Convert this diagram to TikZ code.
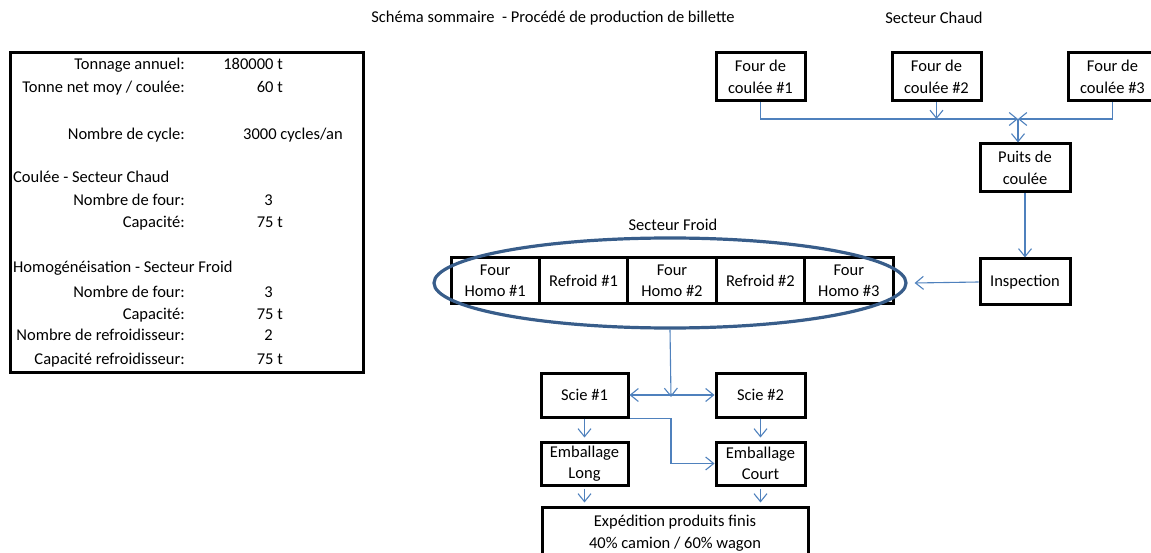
\documentclass[tikz,border=0pt]{standalone}
\usepackage{fontspec}
\setmainfont{Carlito}
\usetikzlibrary{arrows.meta,shapes.geometric}

\definecolor{flowblue}{HTML}{4F81BD}
\definecolor{ringblue}{HTML}{385D8A}

\tikzstyle{txt}=[inner sep=0pt,font=\fontsize{16.5}{21.5}\selectfont]
\tikzstyle{box}=[txt,draw,line width=3pt,align=center,minimum width=89pt,minimum height=48pt]
\tikzstyle{cell}=[box,minimum width=88.4pt,minimum height=46pt]
\tikzstyle{flow}=[draw=flowblue,line width=1.1pt,-{Straight Barb[length=8pt,width=13pt]}]
\tikzstyle{ring}=[draw=ringblue,line width=3.2pt,ellipse,minimum width=472pt,minimum height=90pt]

\begin{document}
\begin{tikzpicture}[x=1pt,y=-1pt]
    \useasboundingbox (0,0) rectangle (1151,553);
    % Titles
    \node[txt] (title) at (553,18) {Schéma sommaire\ \ - Procédé de production de billette};
    \node[txt] (chaud) at (934,18) {Secteur Chaud};

    % Data table on the left
    \draw[line width=3pt] (10,53) rectangle (363,372);
    \foreach \y/\lab in {66.7/Tonnage annuel:, 90/{Tonne net moy / coulée:}, 136.7/Nombre de cycle:,
        203.3/Nombre de four:, 225/Capacité:, 295/Nombre de four:, 316.7/Capacité:,
        338.5/Nombre de refroidisseur:, 361.7/Capacité refroidisseur:}
        \node[txt,anchor=mid east] at (185,\y) {\lab};
    \foreach \y/\lab in {180/Coulée - Secteur Chaud, 270/Homogénéisation - Secteur Froid}
        \node[txt,anchor=mid west] at (13,\y) {\lab};
    \foreach \y/\val/\x in {66.7/180000 t/283, 90/60 t/283, 203.3/3/273, 225/75 t/283,
        295/3/273, 316.7/75 t/283, 338.5/2/273, 361.7/75 t/283}
        \node[txt,anchor=mid east] at (\x,\y) {\val};
    \node[txt,anchor=mid west] at (243,136.7) {3000 cycles/an};

    % Hot sector
    \foreach \pos/\name/\num in {{(760.5,77)/f1/1}, {(936.5,77)/f2/2}, {(1112.5,77)/f3/3}}
        \node[box] (\name) at \pos {Four de\\coulée \#\num};
    \node[box,minimum width=90pt] (puits) at (1025,168) {Puits de\\coulée};
    \node[box,minimum width=90pt,minimum height=46pt] (insp) at (1025,282) {Inspection};
    \coordinate (jct) at (1018,119);

    \draw[flow] (f1.south) |- (jct);
    \draw[flow] (f3.south) |- (jct);
    \draw[flow] (f2.south) -- (f2.south |- jct);
    \draw[flow] (jct) -- (jct |- puits.north);
    \draw[flow] (puits.south) -- (insp.north);

    % Cold sector
    \foreach \x/\name/\lab in {495.2/h1/Four\\Homo \#1, 583.6/r1/Refroid \#1, 672/h2/Four\\Homo \#2,
        760.4/r2/Refroid \#2, 848.8/h3/Four\\Homo \#3}
        \node[cell] (\name) at (\x,281) {\lab};
    \node[ring] (froid) at (670,283) {};
    \node[txt] (froidlab) at (673,225) {Secteur Froid};
    \draw[flow] (insp.west) -- ([xshift=7pt]froid.east);

    % Saws, packing and shipping
    \node[box,minimum width=87pt,minimum height=44pt] (scie1) at (584.5,395) {Scie \#1};
    \node[box,minimum width=89pt,minimum height=44pt] (scie2) at (760.5,395) {Scie \#2};
    \node[box,minimum width=87pt,minimum height=43pt] (emblong) at (584.5,463.5) {Emballage\\Long};
    \node[box,minimum width=89pt,minimum height=43pt] (embcourt) at (760.5,463.5) {Emballage\\Court};
    \node[box,minimum width=266pt,minimum height=52pt] (exped) at (675,533)
        {Expédition produits finis\\40\% camion / 60\% wagon};
    \coordinate (split) at (671,397);

    \draw[flow] (froid.south) -- (split);
    \draw[flow,{Straight Barb[length=8pt,width=13pt]}-{Straight Barb[length=8pt,width=13pt]}] (scie1.east) -- (scie2.west);
    \draw[flow,shorten >=3pt] (scie1.south) -- (emblong.north);
    \draw[flow,shorten >=3pt] (scie2.south) -- (embcourt.north);
    \draw[flow] (scie1.south east) -| (split |- embcourt.west) -- (embcourt.west);
    \draw[flow,shorten <=2pt,shorten >=3pt] (emblong.south) -- (emblong.south |- exped.north);
    \draw[flow,shorten <=2pt,shorten >=3pt] (embcourt.south) -- (embcourt.south |- exped.north);
\end{tikzpicture}
\end{document}
